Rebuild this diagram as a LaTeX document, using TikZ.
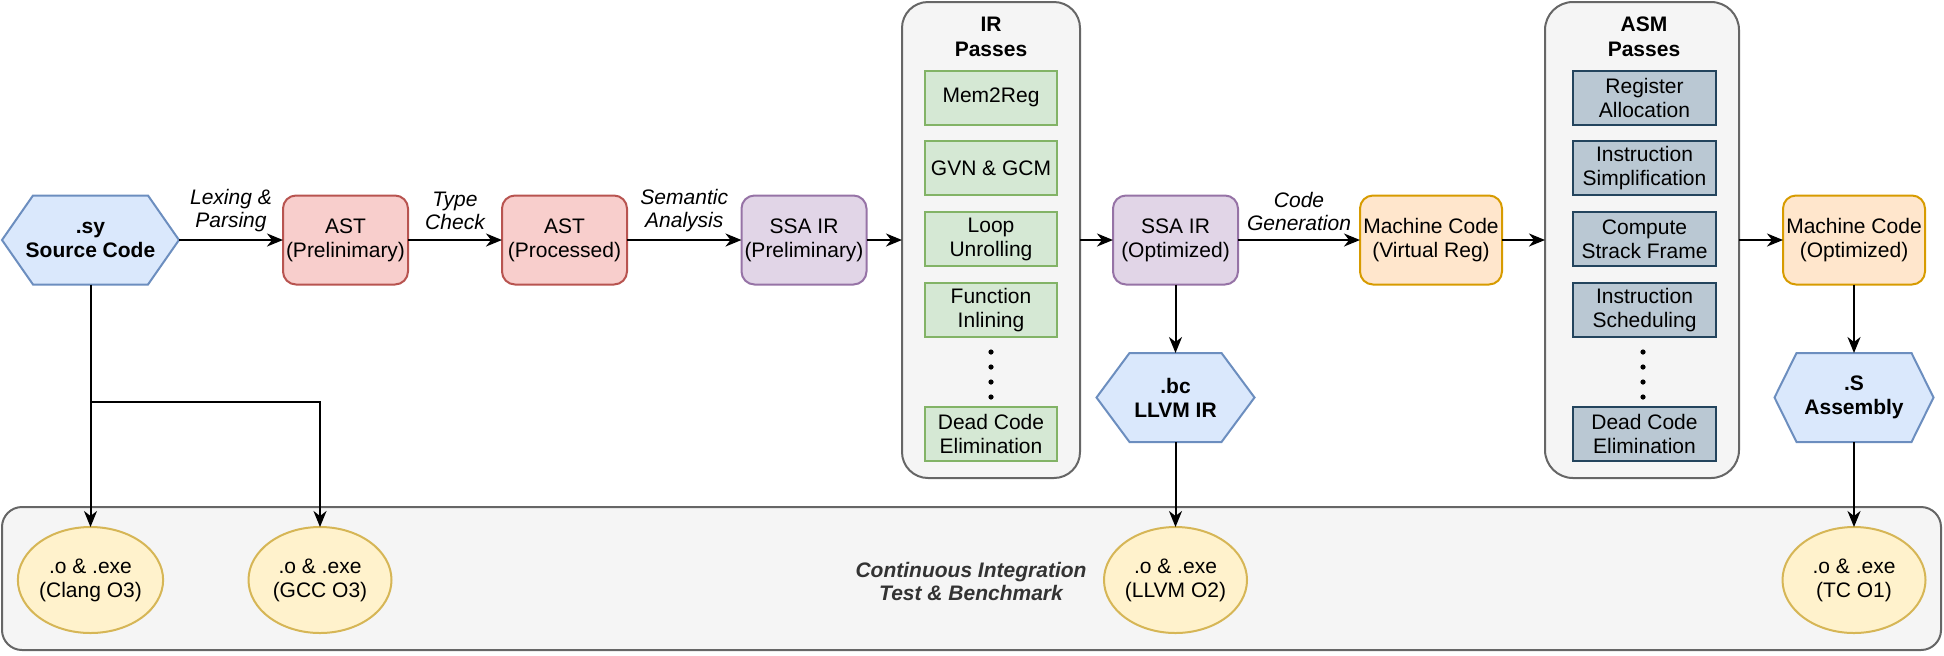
\documentclass[tikz,border=0pt]{standalone}
\usepackage{fontspec}
\setmainfont{Liberation Sans}
\usetikzlibrary{arrows.meta,calc,shapes.geometric}
\pgfdeclarelayer{bg}\pgfsetlayers{bg,main}
\definecolor{blueF}{HTML}{DAE8FC}\definecolor{blueS}{HTML}{6C8EBF}
\definecolor{redF}{HTML}{F8CECC}\definecolor{redS}{HTML}{B85450}
\definecolor{purF}{HTML}{E1D5E7}\definecolor{purS}{HTML}{9673A6}
\definecolor{oraF}{HTML}{FFE6CC}\definecolor{oraS}{HTML}{D79B00}
\definecolor{grnF}{HTML}{D5E8D4}\definecolor{grnS}{HTML}{82B366}
\definecolor{gryF}{HTML}{F5F5F5}\definecolor{gryS}{HTML}{666666}
\definecolor{slaF}{HTML}{BAC8D3}\definecolor{slaS}{HTML}{23445D}
\definecolor{yelF}{HTML}{FFF2CC}\definecolor{yelS}{HTML}{D6B656}
\definecolor{citc}{HTML}{333333}
\newcommand{\hexbg}[2]{%
  \begin{pgfonlayer}{bg}
  \filldraw[hexfill] (#1.west) -- ([xshift=#2]#1.north west) -- ([xshift=-#2]#1.north east) -- (#1.east) -- ([xshift=-#2]#1.south east) -- ([xshift=#2]#1.south west) -- cycle;
  \end{pgfonlayer}}
\begin{document}
\begin{tikzpicture}[x=0.5pt,y=-0.5pt,
  every node/.style={font=\fontsize{10.5}{12}\selectfont, align=center, inner sep=0pt, outer sep=0pt},
  box/.style={draw, rounded corners=6.5pt, line width=1pt, minimum width=62.5pt, minimum height=44.5pt},
  redbox/.style={box, draw=redS, fill=redF},
  purbox/.style={box, draw=purS, fill=purF},
  orabox/.style={box, draw=oraS, fill=oraF, minimum width=71pt},
  container/.style={draw=gryS, fill=gryF, line width=1pt, rounded corners=13pt, minimum height=238pt},
  pass/.style={draw=grnS, fill=grnF, line width=1pt, minimum width=66pt, minimum height=27pt},
  asmpass/.style={draw=slaS, fill=slaF, line width=1pt, minimum width=71.5pt, minimum height=27pt},
  result/.style={ellipse, draw=yelS, fill=yelF, line width=1pt, minimum width=71.5pt, minimum height=53pt},
  hexnode/.style={font=\bfseries\fontsize{10.5}{12}\selectfont, minimum height=44.5pt},
  hexfill/.style={draw=blueS, fill=blueF, line width=1pt, line join=miter},
  title/.style={font=\bfseries\fontsize{10.5}{12.5}\selectfont},
  citext/.style={font=\bfseries\itshape\fontsize{10.5}{11.5}\selectfont, text=citc},
  lbl/.style={font=\itshape\fontsize{10.5}{11.5}\selectfont, midway, yshift=14.5pt},
  arrow/.style={-{Stealth[length=8pt,width=6.5pt,inset=2.5pt]}, line width=1pt},
  dot/.style={fill=black}
]
\useasboundingbox (0,0) rectangle (1944,655);

% bottom container
\node[container, minimum width=969.5pt, minimum height=71.5pt, rounded corners=10pt] (ci) at (971.5,578.5) {};
\node[citext] (citxt) at (971,581) {Continuous Integration\\Test \& Benchmark};

% IR passes
\node[container, minimum width=89pt] (irc) at (991,240) {};
\node[title] (irt) at (991,37) {IR\\Passes};
\node[pass] (p1) at (991,97.5) {Mem2Reg};
\node[pass] (p2) at (991,168) {GVN \& GCM};
\node[pass] (p3) at (991,239) {Loop\\Unrolling};
\node[pass] (p4) at (991,310) {Function\\Inlining};
\node[pass] (p5) at (991,434) {Dead Code\\Elimination};
\foreach \yy in {352,367,382,397} \fill[dot] (991,\yy) circle (1.3pt);

% ASM passes
\node[container, minimum width=97pt, rounded corners=14pt] (asmc) at (1642,240) {};
\node[title] (asmt) at (1644,37) {ASM\\Passes};
\node[asmpass] (a1) at (1644.5,97.5) {Register\\Allocation};
\node[asmpass] (a2) at (1644.5,168) {Instruction\\Simplification};
\node[asmpass] (a3) at (1644.5,239) {Compute\\Strack Frame};
\node[asmpass] (a4) at (1644.5,310) {Instruction\\Scheduling};
\node[asmpass] (a5) at (1644.5,434) {Dead Code\\Elimination};
\foreach \yy in {352,367,382,397} \fill[dot] (1643,\yy) circle (1.3pt);

% main row
\node[hexnode, minimum width=88.5pt] (src) at (90.5,240) {.sy\\Source Code};
\hexbg{src}{15.5pt}
\node[redbox] (ast1) at (345.5,240) {AST\\(Prelinimary)};
\node[redbox] (ast2) at (564.5,240) {AST\\(Processed)};
\node[purbox] (ssa1) at (804,240) {SSA IR\\(Preliminary)};
\node[purbox] (ssa2) at (1175.5,240) {SSA IR\\(Optimized)};
\node[orabox] (mc1) at (1431,240) {Machine Code\\(Virtual Reg)};
\node[orabox] (mc2) at (1854,240) {Machine Code\\(Optimized)};

\node[hexnode, minimum width=79pt] (bc) at (1175.5,397.5) {.bc\\LLVM IR};
\hexbg{bc}{16.5pt}
\node[hexnode, minimum width=79.5pt] (asm) at (1854,397.5) {.S\\Assembly};
\hexbg{asm}{11pt}

% results
\node[result] (clang) at (90.5,580) {.o \& .exe\\(Clang O3)};
\node[result] (gcc) at (320,580) {.o \& .exe\\(GCC O3)};
\node[result] (llvm) at (1175.5,580) {.o \& .exe\\(LLVM O2)};
\node[result] (tc) at (1854,580) {.o \& .exe\\(TC O1)};

% connectors
\draw[arrow] (src) -- node[lbl]{Lexing \&\\Parsing} (ast1);
\draw[arrow] (ast1) -- node[lbl]{Type\\Check} (ast2);
\draw[arrow] (ast2) -- node[lbl]{Semantic\\Analysis} (ssa1);
\draw[arrow] (ssa1) -- (irc);
\draw[arrow] (irc) -- (ssa2);
\draw[arrow] (ssa2) -- node[lbl]{Code\\Generation} (mc1);
\draw[arrow] (mc1) -- (asmc);
\draw[arrow] (asmc) -- (mc2);
\draw[arrow] (ssa2) -- (bc);
\draw[arrow] (bc) -- (llvm);
\draw[arrow] (mc2) -- (asm);
\draw[arrow] (asm) -- (tc);
\draw[arrow] (src) -- (clang);
\coordinate (br) at (90.5,402);
\draw[arrow] (br) -| (gcc);
\end{tikzpicture}
\end{document}
